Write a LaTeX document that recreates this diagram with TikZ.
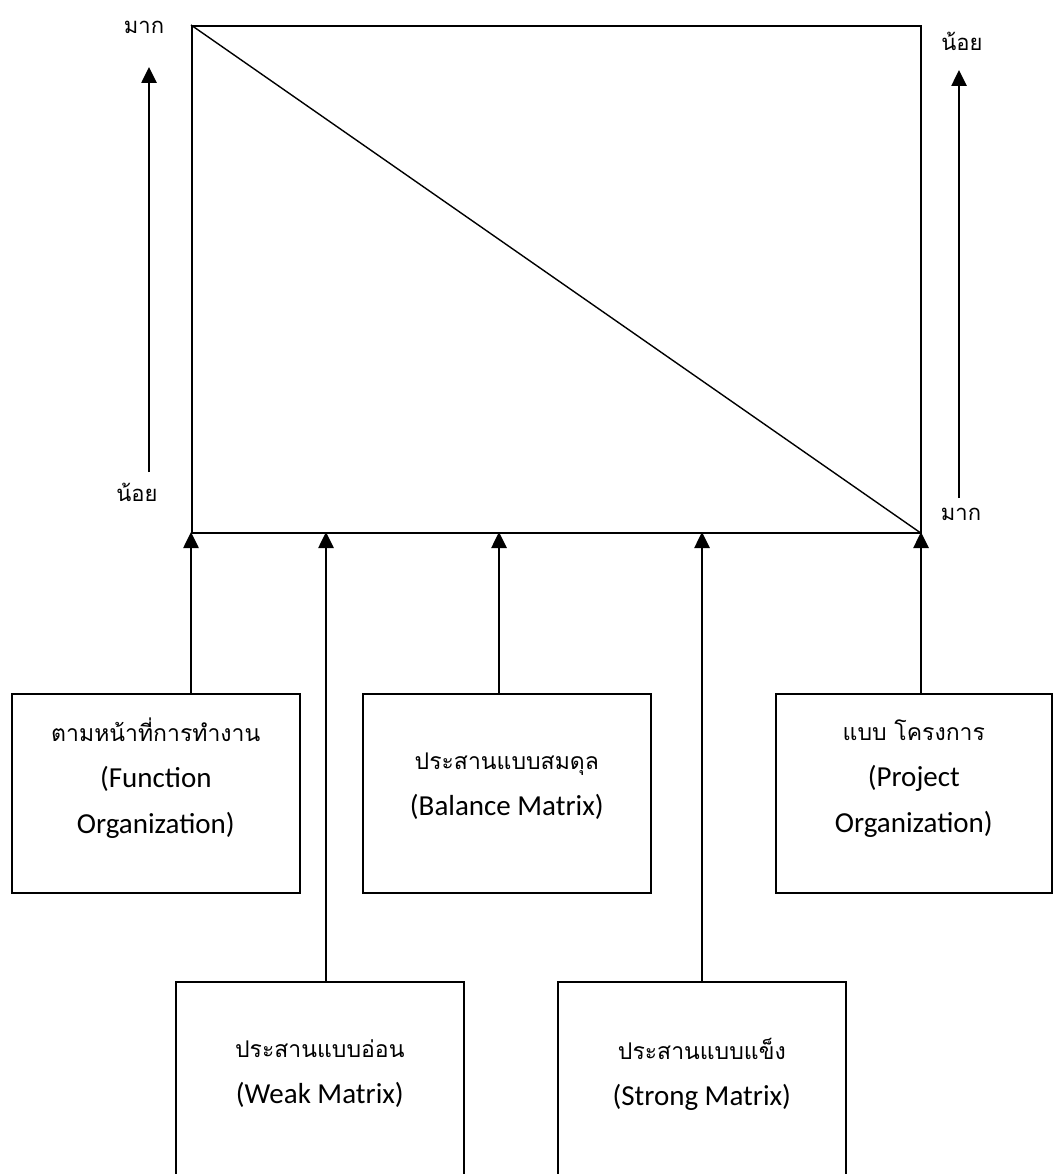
\documentclass[tikz,border=0pt]{standalone}
\usepackage{fontspec}
\setmainfont{Carlito}
\newfontfamily\thaifont[Script=Thai]{Loma}
\usetikzlibrary{arrows.meta}
\tikzset{
  orgbox/.style={draw, line width=1.6pt, minimum width=288pt, minimum height=199pt,
    inner sep=0pt, align=center, text depth=35pt, font=\fontsize{29}{46}\selectfont},
  sidetext/.style={inner sep=0pt, font=\thaifont\fontsize{22}{26}\selectfont},
  uparrow/.style={line width=2.6pt, -{Triangle[length=16pt,width=15pt]}}
}
\newcommand{\thline}[1]{{\thaifont\fontsize{23}{46}\selectfont #1}}

\begin{document}
\begin{tikzpicture}[x=1pt,y=1pt,yscale=-1,xscale=1]
\useasboundingbox (0,0) rectangle (1052,1174);

%Shape: Rectangle with its diagonal
\node [draw, line width=1.6pt, inner sep=0pt, minimum width=729pt, minimum height=507pt, anchor=north west] (frame) at (191,25) {};
\draw [line width=1.4pt] (frame.north west) -- (frame.south east);

% Text Node
\node [sidetext] (moreL) at (144,27) {มาก};
% Text Node
\node [sidetext] (lessL) at (137,492) {น้อย};
% Text Node
\node [sidetext] (lessR) at (962,41) {น้อย};
% Text Node
\node [sidetext] (moreR) at (961,514) {มาก};

%Straight Lines: side arrows
\coordinate (sideL0) at (149,472);
\coordinate (sideL1) at (149,67);
\coordinate (sideR0) at (959,498);
\coordinate (sideR1) at (959,70);
\draw [uparrow] (sideL0) -- (sideL1);
\draw [uparrow] (sideR0) -- (sideR1);

%Shape: Boxes, upper row
\node [orgbox, anchor=north west] (func) at (11,693) {\thline{ตามหน้าที่การทำงาน}\\(Function\\Organization)};
\node [orgbox, anchor=north west, text depth=19pt] (balance) at (362,693) {\thline{ประสานแบบสมดุล}\\(Balance Matrix)};
\node [orgbox, anchor=north west, minimum width=276pt] (project) at (775,693) {\thline{แบบ โครงการ}\\(Project\\Organization)};
%Shape: Boxes, lower row
\node [orgbox, anchor=north west, minimum height=220pt, text depth=40pt] (weak) at (175,981) {\thline{ประสานแบบอ่อน}\\(Weak Matrix)};
\node [orgbox, anchor=north west, minimum height=220pt, text depth=40pt] (strong) at (557,981) {\thline{ประสานแบบแข็ง}\\(Strong Matrix)};

%Straight Lines: box arrows
\coordinate (hitFunc) at (191,532);
\coordinate (hitWeak) at (326,532);
\coordinate (hitBalance) at (499,532);
\coordinate (hitStrong) at (702,532);
\coordinate (hitProject) at (921,532);
\draw [uparrow] (func.north -| hitFunc) -- (hitFunc);
\draw [uparrow] (weak.north -| hitWeak) -- (hitWeak);
\draw [uparrow] (balance.north -| hitBalance) -- (hitBalance);
\draw [uparrow] (strong.north -| hitStrong) -- (hitStrong);
\draw [uparrow] (project.north -| hitProject) -- (hitProject);

\end{tikzpicture}
\end{document}
